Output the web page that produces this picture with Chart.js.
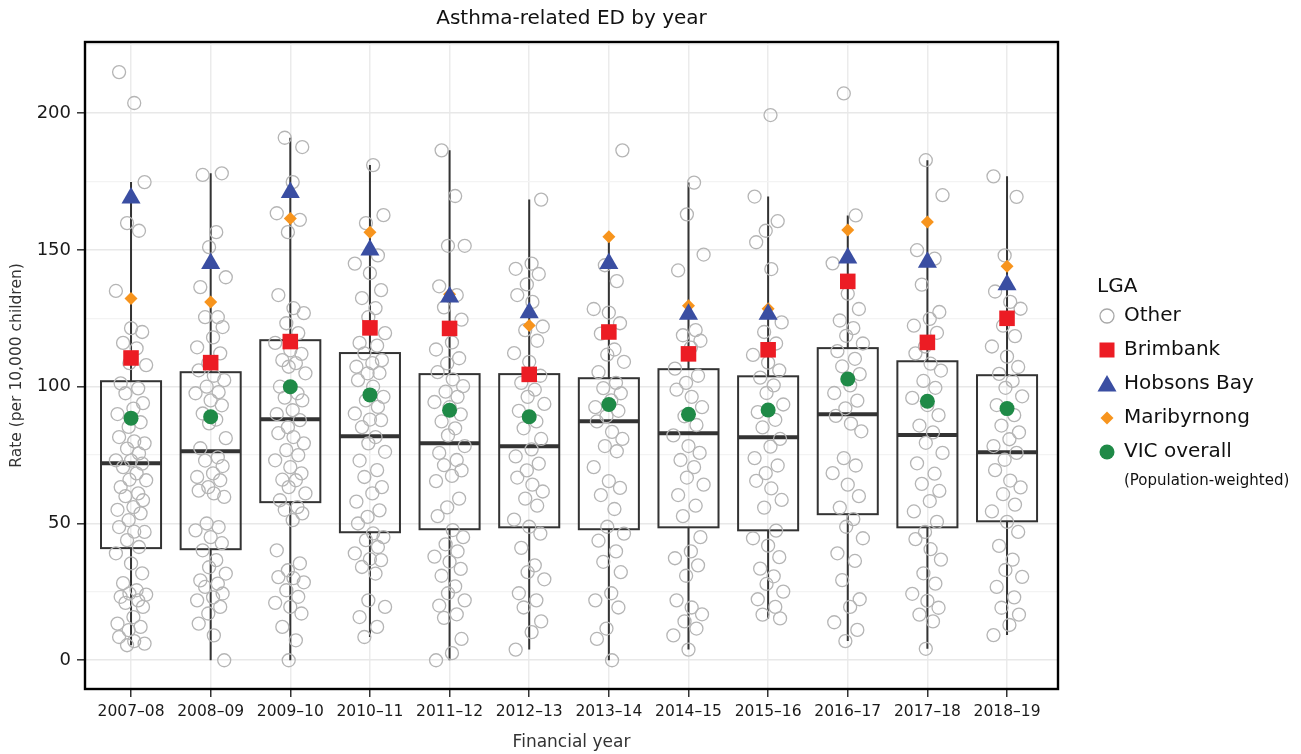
<!DOCTYPE html>
<html>
<head>
<meta charset="utf-8">
<script src="https://cdn.jsdelivr.net/npm/chart.js@4.4.1/dist/chart.umd.min.js"></script>
<style>
  html, body { margin: 0; padding: 0; background: #fff; }
  .chart-container { width: 1301px; height: 754px; }
</style>
</head>
<body>
<div class="chart-container"><canvas id="myChart" width="1301" height="754"></canvas></div>
<script>
const years = ["2007–08", "2008–09", "2009–10", "2010–11", "2011–12", "2012–13",
  "2013–14", "2014–15", "2015–16", "2016–17", "2017–18", "2018–19"];

// rates for the "Other" LGAs, one list per year
const other0708 = [215, 203.7, 174.8, 159.8, 157, 135, 121.4, 120, 116, 114, 108.6, 107.9, 101.2, 99.4, 97.6, 94, 92, 90, 87, 85.3, 81.6, 80, 79.3, 77.4, 75.6, 73.1, 73, 71.9, 70.6, 68.3, 66, 65.8, 63.3, 61, 60, 58.5, 56, 55, 53.7, 51.2, 48.7, 47, 46.9, 43.9, 41.4, 39.1, 35.4, 31.8, 28.2, 25.6, 24.4, 24, 23.2, 21.9, 21, 19.5, 15.8, 13.4, 12.2, 11, 8.5, 7, 6.1, 5.5];
const other0809 = [178, 177.4, 156.5, 151, 140, 136.4, 125.4, 125.4, 121.8, 118, 114.4, 112.2, 108.6, 106, 104, 102.4, 100, 98, 97.6, 95, 93.2, 90.2, 88, 86.6, 81.2, 77.5, 74.2, 73, 71, 68.3, 67, 65.8, 63.3, 62, 61, 59.7, 50, 48.7, 47.5, 45, 42.8, 40.2, 36.6, 34, 31.7, 29.2, 28, 26.8, 24.4, 23, 21.9, 19.5, 17.1, 13.4, 9.1, 0];
const other0910 = [191, 187.6, 174.8, 163.4, 161, 156.5, 133.5, 128.7, 126.9, 123.2, 119.6, 116, 113.3, 112, 109.7, 108.6, 107.3, 104.9, 100, 97.6, 96, 95, 91.4, 90, 87.8, 85.2, 83, 81.6, 79.3, 76.8, 75, 73.1, 70.6, 68.3, 66, 65.8, 63.3, 61, 58.5, 56, 55, 53.7, 51.2, 40.2, 35.4, 32.9, 30.4, 30, 28.5, 25.6, 23.2, 21, 19.5, 17.1, 12.2, 7.3, 0];
const other1011 = [181, 162.7, 159.8, 148, 145, 141.5, 135.3, 132.4, 128.7, 125.4, 119.6, 116, 115, 112.2, 109.7, 108.6, 107.3, 105, 104.9, 102.4, 100, 96.3, 95, 92.6, 90.2, 88, 87.8, 85.2, 81.6, 79.3, 76.2, 73, 69.5, 67, 63.3, 61, 58, 54.8, 52.4, 50, 46.4, 45, 43.9, 41.4, 39.1, 37, 36.6, 34.1, 31.7, 21.9, 19.5, 15.8, 12.2, 8.5];
const other1112 = [186.4, 169.7, 151.5, 151.5, 136.7, 133.5, 129, 124.5, 116.2, 113.6, 110.4, 108.5, 105.3, 102.7, 100.2, 98.2, 96.3, 94.4, 92.5, 89.9, 87.3, 84.8, 82.2, 78.3, 75.8, 73.2, 71.3, 69.4, 67.4, 65.5, 59.1, 55.9, 52.7, 47.6, 45, 42.4, 39.8, 37.9, 36, 33.4, 30.9, 27, 24.5, 21.9, 20, 16.8, 15.5, 7.8, 2.6, 0];
const other1213 = [168.4, 145, 143.1, 141.2, 137.4, 133.5, 131, 122, 120.7, 116.8, 112.3, 109.1, 104, 101.4, 98.9, 96.3, 93.7, 91.2, 87.3, 84.8, 80.9, 77.1, 74.5, 71.9, 69.4, 66.8, 64.2, 61.7, 59.1, 56.5, 51.4, 48.8, 46.3, 41.1, 34.7, 32.2, 29.6, 24.5, 21.9, 19.3, 14.2, 10.3, 3.9];
const other1314 = [186.4, 144.4, 138.6, 128.4, 127.1, 123.2, 119.4, 113.6, 111.7, 109.1, 105.3, 101.4, 99.5, 97.6, 95, 92.5, 91.2, 89.2, 87.3, 83.5, 80.9, 78.3, 76.4, 70.6, 65.5, 63, 60.4, 55.3, 48.8, 46.3, 43.7, 39.8, 36, 32.2, 24.5, 21.9, 19.3, 11.6, 7.8, 0];
const other1415 = [174.6, 163, 148.3, 142.5, 120.7, 118.8, 116.8, 114.3, 106.6, 104, 101.4, 98.9, 96.3, 92.5, 89.2, 86, 82.2, 78.3, 75.8, 73.2, 70.6, 66.8, 64.2, 60.4, 56.5, 52.7, 45, 39.8, 37.3, 34.7, 30.9, 21.9, 19.3, 16.8, 14.2, 11.6, 9.1, 3.9];
const other1516 = [199.3, 169.5, 160.5, 157, 152.8, 143, 123.5, 120, 115.8, 111.6, 108.8, 106, 103.3, 100.5, 97.7, 93.5, 90.7, 87.9, 85.1, 80.9, 78.1, 73.9, 71.2, 68.4, 65.6, 62.8, 58.6, 55.8, 47.4, 44.6, 41.9, 37.7, 33.5, 30.7, 27.9, 25.1, 22.3, 19.5, 16.7, 15.3];
const other1617 = [207.2, 162.6, 145.1, 134, 128.4, 124.2, 121.4, 118.6, 115.8, 113, 110.2, 107.4, 104.6, 100.5, 97.7, 94.9, 92.1, 89.3, 86.5, 83.7, 73.9, 71.2, 68.4, 64.2, 60, 55.8, 51.6, 48.8, 44.6, 39.1, 36.3, 29.3, 22.3, 19.5, 13.9, 11.1, 7];
const other1718 = [182.8, 170, 149.9, 146.8, 137.3, 127.3, 124.8, 122.3, 119.7, 114.7, 112.2, 108.4, 105.9, 102.1, 99.6, 95.9, 93.3, 89.6, 85.8, 83.3, 79.5, 75.8, 72, 68.2, 64.5, 61.9, 58.2, 54.4, 50.6, 46.9, 44.3, 40.6, 36.8, 31.8, 28, 24.3, 21.7, 19.2, 16.7, 14.2, 4.2];
const other1819 = [176.9, 169.4, 148, 134.8, 131, 128.5, 122.3, 118.5, 114.7, 111, 107.2, 104.7, 102.1, 99.6, 96.5, 93.3, 89.6, 85.8, 83.3, 80.8, 78.3, 75.8, 73.3, 69.5, 65.7, 63.2, 60.7, 56.9, 54.4, 50.6, 46.9, 41.8, 36.8, 33, 30.5, 26.8, 23, 19.2, 16.7, 12.9, 9.2];
const otherByYear = [other0708, other0809, other0910, other1011, other1112, other1213,
  other1314, other1415, other1516, other1617, other1718, other1819];

const brimbank    = [110.5, 108.8, 116.5, 121.5, 121.3, 104.5, 120, 112, 113.5, 138.5, 116.2, 125];
const hobsonsBay  = [169, 145, 171, 150, 132.8, 127, 145, 126.5, 126.5, 147, 145.5, 137.3];
const maribyrnong = [132.2, 131, 161.5, 156.5, 133.8, 122.4, 154.8, 129.6, 128.5, 157.3, 160.2, 144];
const vicOverall  = [88.5, 89, 100, 97, 91.4, 89, 93.5, 89.9, 91.5, 102.8, 94.7, 92];

// box plot summaries
const boxLow    = [5.5, 0, 0, 8.5, 0, 3.9, 0, 3.9, 15.3, 7, 4.2, 9.2];
const boxQ1     = [41, 40.6, 57.8, 46.8, 47.9, 48.6, 47.9, 48.6, 47.5, 53.4, 48.6, 50.8];
const boxMedian = [72, 76.4, 88.1, 81.9, 79.3, 78.2, 87.4, 83, 81.5, 89.9, 82.3, 76];
const boxQ3     = [102, 105.3, 117, 112.3, 104.6, 104.6, 103.1, 106.4, 103.8, 114.1, 109.3, 104.2];
const boxHigh   = [174.8, 178, 191, 181, 186.4, 168.4, 154.8, 174.6, 169.5, 162.6, 182.8, 176.9];

// fixed horizontal spread for the jittered points (in category units)
const jitterPattern = [-0.15, 0.04, 0.17, -0.05, 0.1, -0.19, 0.0, 0.14, -0.1, 0.07,
  -0.02, 0.19, -0.13, 0.09, -0.07, 0.15, 0.03, -0.17, 0.12, -0.03];

const FONT = "'DejaVu Sans', sans-serif";

const otherPoints = [];
otherByYear.forEach((vals, i) => {
  vals.forEach((v, k) => {
    otherPoints.push({ x: i + jitterPattern[(k + i * 7) % jitterPattern.length], y: v });
  });
});
const atYears = (arr) => arr.map((v, i) => ({ x: i, y: v }));

const boxPlugin = {
  id: "boxes",
  beforeDatasetsDraw(chart) {
    const { ctx, scales: { x, y } } = chart;
    ctx.save();
    ctx.strokeStyle = "#333";
    years.forEach((_, i) => {
      const xc = x.getPixelForValue(i);
      const hw = x.getPixelForValue(i + 0.377) - xc;
      ctx.lineWidth = 2;
      ctx.beginPath();
      ctx.moveTo(xc, y.getPixelForValue(boxLow[i]));
      ctx.lineTo(xc, y.getPixelForValue(boxQ1[i]));
      ctx.moveTo(xc, y.getPixelForValue(boxQ3[i]));
      ctx.lineTo(xc, y.getPixelForValue(boxHigh[i]));
      ctx.stroke();
      const top = y.getPixelForValue(boxQ3[i]);
      const bot = y.getPixelForValue(boxQ1[i]);
      ctx.strokeRect(xc - hw, top, hw * 2, bot - top);
      ctx.lineWidth = 4;
      ctx.beginPath();
      const my = y.getPixelForValue(boxMedian[i]);
      ctx.moveTo(xc - hw, my);
      ctx.lineTo(xc + hw, my);
      ctx.stroke();
    });
    ctx.restore();
  },
  afterDraw(chart) {
    const { ctx, chartArea: a } = chart;
    ctx.save();
    // frame
    ctx.strokeStyle = "#000";
    ctx.lineWidth = 2.4;
    ctx.strokeRect(a.left, a.top, a.right - a.left, a.bottom - a.top);
    // title
    ctx.fillStyle = "#111";
    ctx.font = "20px " + FONT;
    ctx.textAlign = "center";
    ctx.textBaseline = "middle";
    ctx.fillText("Asthma-related ED by year", (a.left + a.right) / 2, 19);
    // legend
    ctx.textAlign = "left";
    ctx.fillText("LGA", 1097, 287);
    const sx = 1107, tx = 1124;
    const rows = [316, 350, 384, 418, 452];
    ctx.font = "20px " + FONT;
    ["Other", "Brimbank", "Hobsons Bay", "Maribyrnong", "VIC overall"].forEach((t, k) => {
      ctx.fillStyle = "#111";
      ctx.fillText(t, tx, rows[k]);
    });
    // legend symbols
    let yy = rows[0];
    ctx.strokeStyle = "#a8a8a8"; ctx.lineWidth = 1.3;
    ctx.beginPath(); ctx.arc(sx, yy, 7, 0, Math.PI * 2); ctx.stroke();
    yy = rows[1];
    ctx.fillStyle = "#ec1c24"; ctx.fillRect(sx - 7.5, yy - 7.5, 15, 15);
    yy = rows[2];
    ctx.fillStyle = "#3a4ea2";
    ctx.beginPath(); ctx.moveTo(sx, yy - 9); ctx.lineTo(sx + 9.5, yy + 7.5); ctx.lineTo(sx - 9.5, yy + 7.5); ctx.closePath(); ctx.fill();
    yy = rows[3];
    ctx.fillStyle = "#f7941d";
    ctx.beginPath(); ctx.moveTo(sx, yy - 6.5); ctx.lineTo(sx + 6.5, yy); ctx.lineTo(sx, yy + 6.5); ctx.lineTo(sx - 6.5, yy); ctx.closePath(); ctx.fill();
    yy = rows[4];
    ctx.fillStyle = "#1f8a47";
    ctx.beginPath(); ctx.arc(sx, yy, 7.5, 0, Math.PI * 2); ctx.fill();
    ctx.fillStyle = "#111";
    ctx.font = "15px " + FONT;
    ctx.fillText("(Population-weighted)", tx, 481);
    ctx.restore();
  }
};

const ctx = document.getElementById("myChart");
new Chart(ctx, {
  type: "scatter",
  data: {
    datasets: [
      {
        label: "Other",
        data: otherPoints,
        pointStyle: "circle",
        pointRadius: 6.5,
        pointBorderWidth: 1.3,
        borderColor: "#b5b5b5",
        backgroundColor: "rgba(0,0,0,0)",
        order: 5
      },
      {
        label: "VIC overall",
        data: atYears(vicOverall),
        pointStyle: "circle",
        pointRadius: 7.5,
        borderWidth: 0,
        backgroundColor: "#1f8a47",
        order: 4
      },
      {
        label: "Maribyrnong",
        data: atYears(maribyrnong),
        pointStyle: "rectRot",
        pointRadius: 6.5,
        borderWidth: 0,
        backgroundColor: "#f7941d",
        order: 3
      },
      {
        label: "Hobsons Bay",
        data: atYears(hobsonsBay),
        pointStyle: "triangle",
        pointRadius: 11,
        borderWidth: 0,
        backgroundColor: "#3a4ea2",
        order: 2
      },
      {
        label: "Brimbank",
        data: atYears(brimbank),
        pointStyle: "rect",
        pointRadius: 11,
        borderWidth: 0,
        backgroundColor: "#ec1c24",
        order: 1
      }
    ]
  },
  options: {
    responsive: false,
    animation: false,
    events: [],
    layout: { padding: { top: 42, right: 243, left: 0, bottom: 0 } },
    plugins: { legend: { display: false }, title: { display: false }, tooltip: { enabled: false } },
    scales: {
      x: {
        type: "linear",
        min: -0.578,
        max: 11.64,
        afterFit: (s) => { s.height = 65; },
        afterBuildTicks: (s) => { s.ticks = years.map((_, i) => ({ value: i })); },
        ticks: {
          callback: (v) => years[v],
          font: { family: FONT, size: 15.5 },
          color: "#1a1a1a",
          padding: 6,
          maxRotation: 0,
          autoSkip: false
        },
        grid: { color: "#ebebeb", lineWidth: 1.5, tickLength: 8, tickColor: "#333", tickWidth: 1.5 },
        border: { display: false },
        title: {
          display: true,
          text: "Financial year",
          font: { family: FONT, size: 17 },
          color: "#333",
          padding: { top: 0, bottom: 1 }
        }
      },
      y: {
        min: -10.5,
        max: 226,
        afterFit: (s) => { s.width = 85; },
        ticks: {
          stepSize: 25,
          includeBounds: false,
          callback: (v) => (v % 50 === 0 ? v : ""),
          font: { family: FONT, size: 18 },
          color: "#1a1a1a",
          padding: 6
        },
        grid: {
          color: (c) => (c.tick && c.tick.value % 50 === 0 ? "#e8e8e8" : "#f3f3f3"),
          lineWidth: (c) => (c.tick && c.tick.value % 50 === 0 ? 1.6 : 1.2),
          tickLength: 8,
          tickWidth: 1.5,
          tickColor: (c) => (c.tick && c.tick.value % 50 === 0 ? "#333" : "rgba(0,0,0,0)")
        },
        border: { display: false },
        title: {
          display: true,
          text: "Rate (per 10,000 children)",
          font: { family: FONT, size: 15.5 },
          color: "#333",
          padding: { top: 8, bottom: 0 }
        }
      }
    }
  },
  plugins: [boxPlugin]
});
</script>
</body>
</html>
